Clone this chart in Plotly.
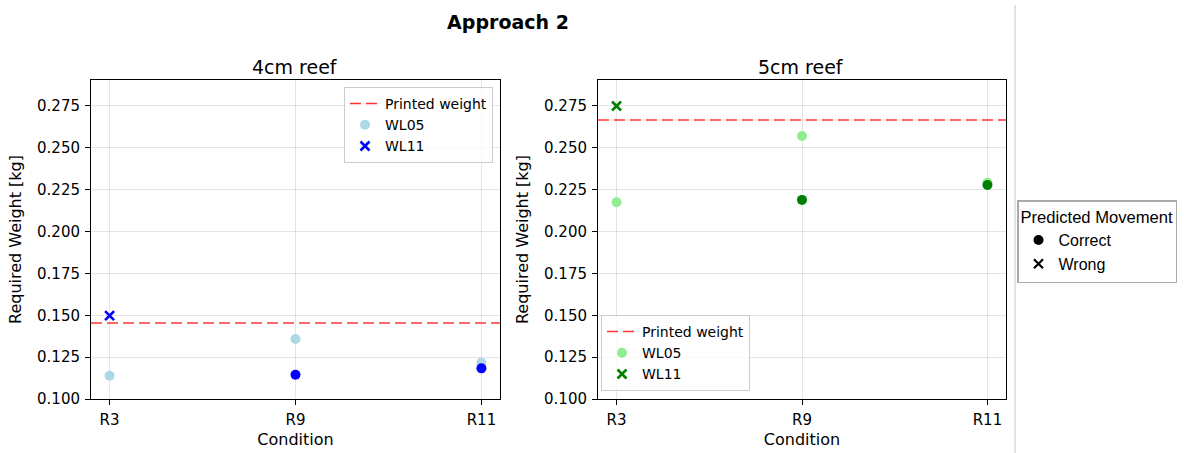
import plotly.graph_objects as go

# Conditions tested and required weights per wave-load case
conditions = ["R3", "R9", "R11"]

printed_4cm = 0.1454
printed_5cm = 0.2666

wl05_4cm = [0.1139, 0.1358, 0.1217]
wl11_4cm = [0.1498, 0.1145, 0.1183]
wl05_5cm = [0.2175, 0.2571, 0.2292]
wl11_5cm = [0.2750, 0.2189, 0.2278]

# Whether the predicted movement was correct for each point
wl05_4cm_correct = [True, True, True]
wl11_4cm_correct = [False, True, True]
wl05_5cm_correct = [True, True, True]
wl11_5cm_correct = [False, True, True]

x_pos = list(range(len(conditions)))
x_range = [-0.1, len(conditions) - 0.9]
y_range = [0.100, 0.2905]

W, H = 1184, 453
BASE_FONT = "DejaVu Sans"
KEY_FONT = "Liberation Sans"


def px_x(v):
    return v / W


def px_y(v):
    return (H - v) / H


def marker_style(correct, color):
    if correct:
        return dict(color=color, symbol="circle", size=10, opacity=1,
                    line=dict(width=0))
    return dict(color=color, symbol="x-thin", size=9, opacity=1,
                line=dict(color=color, width=2.6))


def add_series(fig, name, values, flags, color, xa, ya, lg):
    """One trace per movement outcome; the legend shows the symbol of the first point."""
    order = [flags[0], not flags[0]]
    for i, outcome in enumerate(order):
        xs = [x for x, f in zip(x_pos, flags) if f == outcome]
        ys = [v for v, f in zip(values, flags) if f == outcome]
        if not xs:
            continue
        fig.add_trace(go.Scatter(
            x=xs, y=ys, mode="markers", name=name,
            marker=marker_style(outcome, color),
            legendgroup=f"{lg}-{name}", showlegend=(i == 0),
            xaxis=xa, yaxis=ya, legend=lg,
        ))


fig = go.Figure()

panels = [
    ("x", "y", "legend", printed_4cm, wl05_4cm, wl05_4cm_correct, wl11_4cm, wl11_4cm_correct,
     "lightblue", "blue"),
    ("x2", "y2", "legend2", printed_5cm, wl05_5cm, wl05_5cm_correct, wl11_5cm, wl11_5cm_correct,
     "lightgreen", "green"),
]

for xa, ya, lg, printed, wl05, wl05_ok, wl11, wl11_ok, c05, c11 in panels:
    fig.add_trace(go.Scatter(
        x=x_range, y=[printed, printed], mode="lines", name="Printed weight",
        line=dict(color="rgba(255,0,0,0.8)", width=1.5, dash="11px,5px"),
        xaxis=xa, yaxis=ya, legend=lg, hoverinfo="skip",
    ))
    add_series(fig, "WL05", wl05, wl05_ok, c05, xa, ya, lg)
    add_series(fig, "WL11", wl11, wl11_ok, c11, xa, ya, lg)

# Marker key for predicted movement
fig.add_trace(go.Scatter(
    x=[None], y=[None], mode="markers", name="Correct",
    marker=dict(color="black", symbol="circle", size=10), legend="legend3",
))
fig.add_trace(go.Scatter(
    x=[None], y=[None], mode="markers", name="Wrong",
    marker=dict(color="black", symbol="x-thin", size=9, line=dict(color="black", width=2.2)),
    legend="legend3",
))

axis_common = dict(
    showline=True, mirror=True, linecolor="black", linewidth=1,
    ticks="outside", ticklen=5, tickcolor="black", tickwidth=1,
    showgrid=True, gridcolor="rgba(0,0,0,0.1)", gridwidth=1, zeroline=False,
    automargin=False,
    tickfont=dict(family=BASE_FONT, size=15, color="black"),
)

x_common = dict(axis_common, range=x_range, tickvals=x_pos, ticktext=conditions,
                ticklabelstandoff=2,
                title=dict(text="Condition", font=dict(family=BASE_FONT, size=16), standoff=5))
y_common = dict(axis_common, range=y_range, tick0=0.1, dtick=0.025, tickformat=".3f",
                ticklabelstandoff=2,
                domain=[px_y(399), px_y(80)],
                title=dict(text="Required Weight [kg]", font=dict(family=BASE_FONT, size=16), standoff=11))

legend_common = dict(
    bgcolor="rgba(255,255,255,0.8)", bordercolor="#cccccc", borderwidth=1,
    font=dict(family=BASE_FONT, size=14, color="black"), tracegroupgap=0,
)

fig.update_layout(
    width=W, height=H,
    margin=dict(l=0, r=0, t=0, b=0),
    paper_bgcolor="white", plot_bgcolor="white",
    font=dict(family=BASE_FONT, size=14, color="black"),
    showlegend=True,
    title=dict(text="<b>Approach 2</b>", x=px_x(508), xanchor="center",
               y=px_y(22), yanchor="middle",
               font=dict(family=BASE_FONT, size=19, color="black")),
    xaxis=dict(x_common, domain=[px_x(91), px_x(500)], anchor="y"),
    yaxis=dict(y_common, anchor="x"),
    xaxis2=dict(x_common, domain=[px_x(598), px_x(1006)], anchor="y2"),
    yaxis2=dict(y_common, anchor="x2"),
    legend=dict(legend_common, x=px_x(493), xanchor="right", y=px_y(87), yanchor="top"),
    legend2=dict(legend_common, x=px_x(601), xanchor="left", y=px_y(391), yanchor="bottom"),
    legend3=dict(
        x=px_x(1017), xanchor="left", y=px_y(200), yanchor="top",
        bgcolor="white", bordercolor="#aaaaaa", borderwidth=1.5,
        title=dict(text="Predicted Movement", font=dict(family=KEY_FONT, size=16.6, color="black")),
        font=dict(family=KEY_FONT, size=16, color="black"), tracegroupgap=0,
    ),
    annotations=[
        dict(text="4cm reef", x=px_x(295), y=px_y(67), xref="paper", yref="paper",
             xanchor="center", yanchor="middle", showarrow=False,
             font=dict(family=BASE_FONT, size=19, color="black")),
        dict(text="5cm reef", x=px_x(801), y=px_y(67), xref="paper", yref="paper",
             xanchor="center", yanchor="middle", showarrow=False,
             font=dict(family=BASE_FONT, size=19, color="black")),
    ],
    shapes=[
        dict(type="line", xref="paper", yref="paper", x0=px_x(1015), x1=px_x(1015),
             y0=0, y1=px_y(5), line=dict(color="#c8c8c8", width=1)),
    ],
)

fig.write_html("out.html")
